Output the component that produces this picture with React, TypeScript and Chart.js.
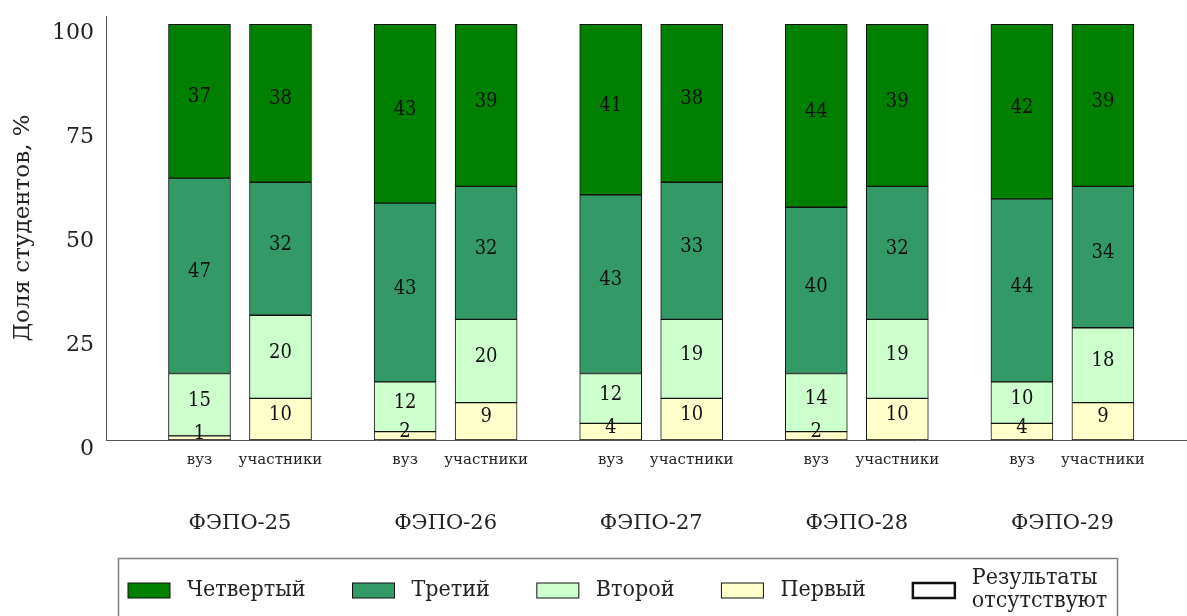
import React, { useEffect, useRef } from 'react';
import { Chart, registerables } from 'chart.js';

Chart.register(...registerables);

// ---- data ----
const groups = ['ФЭПО-25', 'ФЭПО-26', 'ФЭПО-27', 'ФЭПО-28', 'ФЭПО-29'];
const subLabels = ['вуз', 'участники'];
const seriesNames = ['Первый', 'Второй', 'Третий', 'Четвертый'];
// order of bars: (25 вуз, 25 участники, 26 вуз, 26 участники, ...)
const firstLevel = [1, 10, 2, 9, 4, 10, 2, 10, 4, 9];
const secondLevel = [15, 20, 12, 20, 12, 19, 14, 19, 10, 18];
const thirdLevel = [47, 32, 43, 32, 43, 33, 40, 32, 44, 34];
const fourthLevel = [37, 38, 43, 39, 41, 38, 44, 39, 42, 39];
const yTicks = [0, 25, 50, 75, 100];
const legendLabels = ['Четвертый', 'Третий', 'Второй', 'Первый', 'Результаты\nотсутствуют'];

// ---- styles ----
const seriesColors = ['#ffffcc', '#ccffcc', '#339966', '#008000'];
const legendColors = ['#008000', '#339966', '#ccffcc', '#ffffcc', '#ffffff'];
const SERIF = '"DejaVu Serif", serif';
const SERIF_COND = '"DejaVu Serif Condensed", "DejaVu Serif", serif';
const GROUP_STEP = 2.538;
const X_MIN = -1.154;
const X_MAX = 12.19;

const barPos = (i: number) => Math.floor(i / 2) * GROUP_STEP + (i % 2);
const groupPos = (g: number) => g * GROUP_STEP + 0.5;

const valueLabels = {
  id: 'valueLabels',
  afterDatasetsDraw(chart: any) {
    const ctx = chart.ctx;
    ctx.save();
    ctx.font = `20px ${SERIF_COND}`;
    ctx.fillStyle = '#111';
    ctx.textAlign = 'center';
    ctx.textBaseline = 'middle';
    chart.data.datasets.forEach((ds: any, di: number) => {
      const meta = chart.getDatasetMeta(di);
      meta.data.forEach((el: any, i: number) => {
        const v = ds.data[i].y;
        const cy = (el.y + el.base) / 2 - 4;
        ctx.fillText(String(v), el.x, cy);
      });
    });
    ctx.restore();
  },
};

const customLegend = {
  id: 'customLegend',
  afterDraw(chart: any) {
    const ctx = chart.ctx;
    ctx.save();
    ctx.strokeStyle = '#808080';
    ctx.lineWidth = 1.5;
    ctx.fillStyle = '#fff';
    ctx.fillRect(118, 558, 999, 70);
    ctx.strokeRect(118.5, 558.5, 999, 70);
    ctx.font = `23px ${SERIF_COND}`;
    ctx.textBaseline = 'middle';
    ctx.textAlign = 'left';
    let x = 128;
    const cy = 590;
    legendLabels.forEach((lab, i) => {
      ctx.fillStyle = legendColors[i];
      ctx.fillRect(x, cy - 7, 42, 15);
      ctx.strokeStyle = '#111';
      ctx.lineWidth = i === 4 ? 2.5 : 1;
      ctx.strokeRect(x, cy - 7, 42, 15);
      ctx.fillStyle = '#222';
      const lines = lab.split('\n');
      let w = 0;
      lines.forEach((ln, k) => {
        const ly = cy + (k - (lines.length - 1) / 2) * 23;
        ctx.fillText(ln, x + 59, ly);
        w = Math.max(w, ctx.measureText(ln).width);
      });
      x += 59 + w + 47;
    });
    ctx.restore();
  },
};

export default function App() {
  const ref = useRef<HTMLCanvasElement>(null);
  useEffect(() => {
    document.body.style.margin = '0';
    const datasets = [firstLevel, secondLevel, thirdLevel, fourthLevel].map((arr, si) => ({
      label: seriesNames[si],
      data: arr.map((v, i) => ({ x: barPos(i), y: v })),
      backgroundColor: seriesColors[si],
      borderColor: '#111',
      borderWidth: 1,
      borderSkipped: false,
      barThickness: 62,
    }));
    const chart = new Chart(ref.current!, {
      type: 'bar',
      data: { datasets },
      plugins: [valueLabels, customLegend],
      options: {
        animation: false,
        responsive: false,
        devicePixelRatio: 1,
        layout: { padding: { top: 16, left: 0, right: 0, bottom: 0 } },
        plugins: { legend: { display: false }, tooltip: { enabled: false } },
        scales: {
          x: {
            type: 'linear',
            stacked: true,
            offset: false,
            min: X_MIN,
            max: X_MAX,
            weight: 0,
            grid: { display: false, drawTicks: false, offset: false },
            border: { display: true, color: '#555', width: 1 },
            afterBuildTicks: (s: any) => {
              s.ticks = firstLevel.map((_, i) => ({ value: barPos(i) }));
            },
            afterFit: (s: any) => {
              s.height = 40;
              s.paddingLeft = 0;
              s.paddingRight = 0;
            },
            ticks: {
              autoSkip: false,
              maxRotation: 0,
              padding: 11,
              color: '#222',
              font: { family: SERIF, size: 15 },
              callback: (_v: any, i: number) => subLabels[i % 2],
            },
          },
          x2: {
            type: 'linear',
            position: 'bottom',
            offset: false,
            min: X_MIN,
            max: X_MAX,
            weight: 1,
            grid: { display: false, drawTicks: false, offset: false },
            border: { display: false },
            afterBuildTicks: (s: any) => {
              s.ticks = groups.map((_, g) => ({ value: groupPos(g) }));
            },
            afterFit: (s: any) => {
              s.height = 136;
              s.paddingLeft = 0;
              s.paddingRight = 0;
            },
            ticks: {
              autoSkip: false,
              maxRotation: 0,
              padding: 31,
              color: '#222',
              font: { family: SERIF, size: 21 },
              callback: (_v: any, i: number) => groups[i],
            },
          },
          y: {
            stacked: true,
            min: 0,
            max: 102,
            grid: { display: false, drawTicks: false },
            border: { display: true, color: '#555', width: 1 },
            afterBuildTicks: (s: any) => {
              s.ticks = yTicks.map((v) => ({ value: v }));
            },
            afterFit: (s: any) => {
              s.width = 106;
              s.paddingTop = 0;
              s.paddingBottom = 0;
            },
            ticks: {
              padding: 12,
              labelOffset: 9,
              color: '#222',
              font: { family: SERIF, size: 22 },
            },
            title: {
              display: true,
              text: 'Доля студентов, %',
              color: '#222',
              font: { family: SERIF, size: 23 },
              padding: { top: 9, bottom: 0 },
            },
          },
        },
      } as any,
    });
    return () => chart.destroy();
  }, []);
  return (
    <div style={{ width: 1187, height: 616 }}>
      <canvas ref={ref} width={1187} height={616} style={{ display: 'block' }} />
    </div>
  );
}
